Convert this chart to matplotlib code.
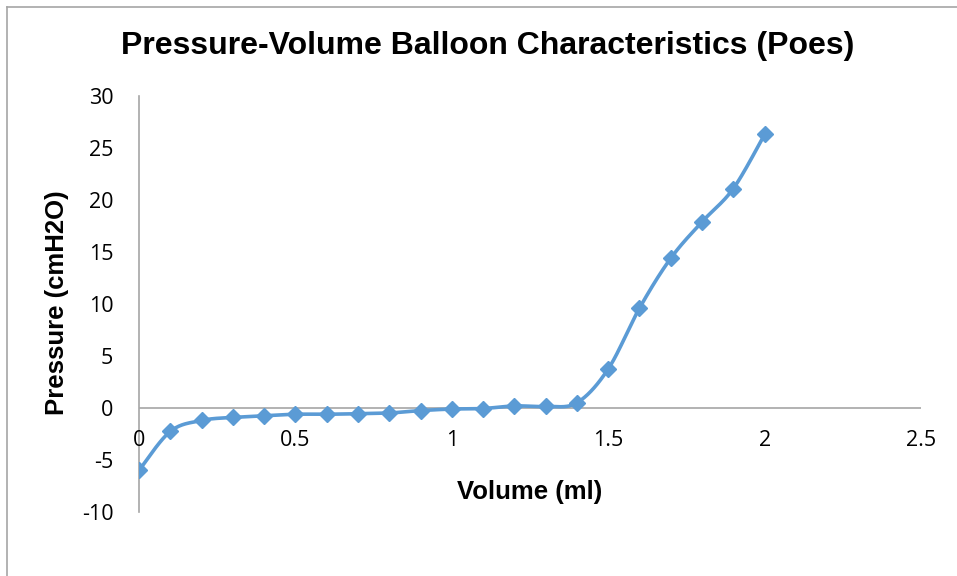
import matplotlib.pyplot as plt
import matplotlib.transforms as mtransforms
import numpy as np
from matplotlib.lines import Line2D

# data
volume = [0, 0.1, 0.2, 0.3, 0.4, 0.5, 0.6, 0.7, 0.8, 0.9, 1.0,
          1.1, 1.2, 1.3, 1.4, 1.5, 1.6, 1.7, 1.8, 1.9, 2.0]
pressure = [-6.0, -2.25, -1.2, -0.9, -0.75, -0.6, -0.6, -0.55, -0.48, -0.25, -0.1,
            -0.05, 0.2, 0.15, 0.5, 3.75, 9.6, 14.4, 17.9, 21.1, 26.3]
xticks = [0, 0.5, 1, 1.5, 2, 2.5]
yticks = [-10, -5, 0, 5, 10, 15, 20, 25, 30]

blue = "#5B9BD5"
grey = "#A6A6A6"


# Excel-like smoothed line (catmull-rom style bezier)
def smooth(xs, ys, n=30):
    p = np.column_stack([xs, ys])
    out = []
    for i in range(len(p) - 1):
        p0 = p[i - 1] if i > 0 else p[i]
        p3 = p[i + 2] if i + 2 < len(p) else p[i + 1]
        p1, p2 = p[i], p[i + 1]
        c1 = p1 + (p2 - p0) / 6
        c2 = p2 - (p3 - p1) / 6
        t = np.linspace(0, 1, n)[:, None]
        seg = ((1 - t) ** 3 * p1 + 3 * (1 - t) ** 2 * t * c1
               + 3 * (1 - t) * t ** 2 * c2 + t ** 3 * p2)
        out.append(seg if i == 0 else seg[1:])
    out = np.vstack(out)
    return out[:, 0], out[:, 1]


fig = plt.figure(figsize=(9.57, 5.76), dpi=100)
ax = fig.add_axes([139 / 957, 1 - 512 / 576, (921 - 139) / 957, (512 - 96) / 576])

sx, sy = smooth(volume, pressure)
ax.plot(sx, sy, color=blue, lw=2.6, solid_capstyle="round", zorder=3)
ax.plot(volume, pressure, ls="none", marker="D", ms=8, color=blue, zorder=4)

ax.set_xlim(0, 2.5)
ax.set_ylim(-10, 30)
ax.set_xticks(xticks)
ax.set_yticks(yticks)
ax.set_xticklabels([])
ax.set_yticklabels([str(t) for t in yticks], fontsize=15.5, family="Open Sans")
ax.tick_params(length=0)
ax.tick_params(axis="y", pad=18.5)

# x axis crosses at y=0
for s in ["top", "right", "bottom"]:
    ax.spines[s].set_visible(False)
ax.spines["left"].set_color(grey)
ax.spines["left"].set_linewidth(1.2)
ax.axhline(0, color=grey, lw=1.2, zorder=1)

# x tick labels sit under the zero line
shift = ax.transData + mtransforms.ScaledTranslation(0, -0.22, fig.dpi_scale_trans)
for t in xticks:
    ax.text(t, 0, str(t), transform=shift, fontsize=15.5, family="Open Sans",
            ha="center", va="top")

fig.text(488 / 957, 1 - 46 / 576, "Pressure-Volume Balloon Characteristics (Poes)",
         ha="center", va="center", fontsize=23, fontweight="bold", family="Liberation Sans")
fig.text(530 / 957, 1 - 492 / 576, "Volume (ml)", ha="center", va="center",
         fontsize=18.5, fontweight="bold", family="Liberation Sans")
fig.text(57 / 957, 1 - 303 / 576, "Pressure (cmH2O)", ha="center", va="center",
         rotation=90, fontsize=18.5, fontweight="bold", family="Liberation Sans")

# chart area border (top and left visible)
fig.add_artist(Line2D([7 / 957, 1], [1 - 7 / 576, 1 - 7 / 576], color=grey, lw=1.2, transform=fig.transFigure))
fig.add_artist(Line2D([7 / 957, 7 / 957], [0, 1 - 7 / 576], color=grey, lw=1.2, transform=fig.transFigure))

fig.savefig("out.png", dpi=100)
